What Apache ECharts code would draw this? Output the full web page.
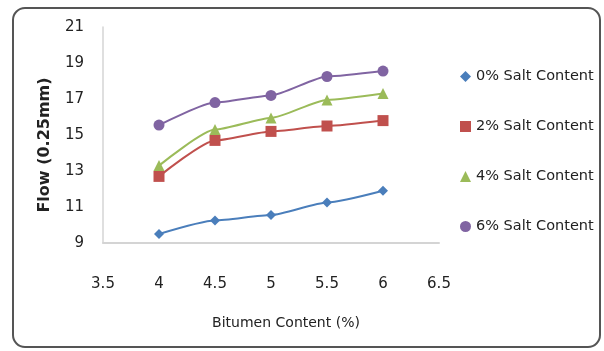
<!DOCTYPE html>
<html>
<head>
<meta charset="utf-8">
<script src="https://cdn.jsdelivr.net/npm/echarts@6/dist/echarts.min.js"></script>
<style>
  html, body { margin: 0; padding: 0; background: #ffffff; }
  #chart { width: 604px; height: 351px; }
</style>
</head>
<body>
<div id="chart"></div>
<script>
// Bitumen content (%) on the x axis
const bitumen = [4, 4.5, 5, 5.5, 6];

// Flow (0.25 mm) for each salt content
const salt0 = [9.5, 10.25, 10.55, 11.25, 11.9];
const salt2 = [12.7, 14.7, 15.2, 15.5, 15.8];
const salt4 = [13.3, 15.3, 15.95, 16.95, 17.3];
const salt6 = [15.55, 16.8, 17.2, 18.25, 18.55];

const seriesNames = ['0% Salt Content', '2% Salt Content', '4% Salt Content', '6% Salt Content'];
const seriesValues = [salt0, salt2, salt4, salt6];
const seriesColors = ['#4a7ebb', '#c0504d', '#9bbb59', '#8064a2'];
const seriesSymbols = ['diamond', 'rect', 'triangle', 'circle'];
const symbolSizes = [10, 11, 11, 11];

const font = 'DejaVu Sans';

const chart = echarts.init(document.getElementById('chart'));

chart.setOption({
  animation: false,
  backgroundColor: '#ffffff',
  textStyle: { fontFamily: font },
  graphic: [{
    type: 'rect',
    shape: { x: 13, y: 8, width: 587, height: 339, r: 12 },
    style: { fill: 'none', stroke: '#555555', lineWidth: 2 },
    silent: true
  }],
  grid: { left: 103, right: 165, top: 27, bottom: 108 },
  legend: {
    orient: 'vertical',
    left: 455,
    top: 64,
    itemGap: 35,
    itemWidth: 11,
    itemHeight: 11,
    textStyle: { fontFamily: font, fontSize: 14.5, color: '#222222' },
    data: seriesNames.map((n, i) => ({ name: n, icon: seriesSymbols[i] }))
  },
  xAxis: {
    type: 'value',
    min: 3.5,
    max: 6.5,
    interval: 0.5,
    name: 'Bitumen Content (%)',
    nameLocation: 'middle',
    nameGap: 73,
    nameTextStyle: { fontFamily: font, fontSize: 14, color: '#222222', padding: [0, 0, 0, 30] },
    axisLine: { lineStyle: { color: '#d4d4d4', width: 2 } },
    axisTick: { show: false },
    splitLine: { show: false },
    axisLabel: { fontFamily: font, fontSize: 15, color: '#222222', margin: 34 }
  },
  yAxis: {
    type: 'value',
    min: 9,
    max: 21,
    interval: 2,
    name: 'Flow (0.25mm)',
    nameLocation: 'middle',
    nameGap: 50,
    nameRotate: 90,
    nameTextStyle: { fontFamily: font, fontSize: 16, fontWeight: 'bold', color: '#222222', padding: [0, 20, 0, 0] },
    axisLine: { show: true, lineStyle: { color: '#d4d4d4', width: 1.5 } },
    axisTick: { show: false },
    splitLine: { show: false },
    axisLabel: { fontFamily: font, fontSize: 15, color: '#222222', margin: 19 }
  },
  series: seriesValues.map((vals, i) => ({
    name: seriesNames[i],
    type: 'line',
    smooth: 0.2,
    smoothMonotone: 'x',
    data: bitumen.map((x, j) => [x, vals[j]]),
    symbol: seriesSymbols[i],
    symbolSize: symbolSizes[i],
    showAllSymbol: true,
    itemStyle: { color: seriesColors[i] },
    lineStyle: { color: seriesColors[i], width: 2 }
  }))
});
</script>
</body>
</html>
